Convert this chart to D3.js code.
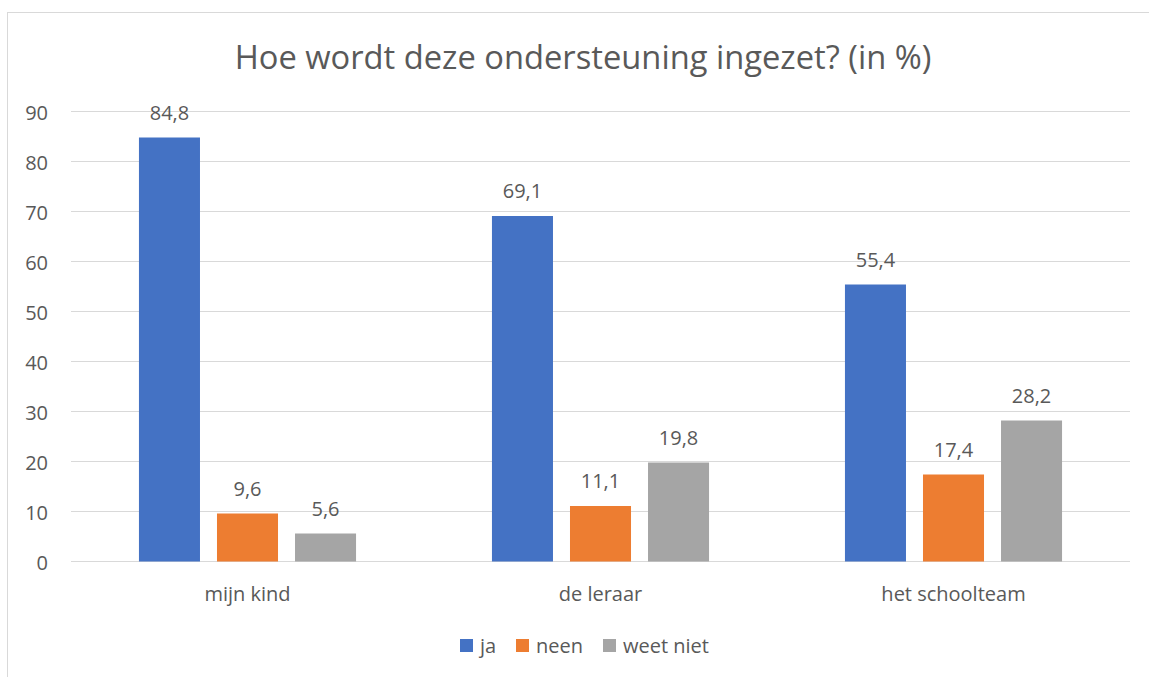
<!DOCTYPE html>
<html><head><meta charset="utf-8">
<script src="https://cdn.jsdelivr.net/npm/d3@7"></script>
<style>body{margin:0;background:#fff}svg{display:block}text{font-family:"Open Sans",sans-serif;fill:#595959}</style>
</head><body>
<svg id="c" width="1149" height="677"></svg>
<script>
const title = "Hoe wordt deze ondersteuning ingezet? (in %)";
const categories = ["mijn kind", "de leraar", "het schoolteam"];
const seriesNames = ["ja", "neen", "weet niet"];
const ja = [84.8, 69.1, 55.4];
const neen = [9.6, 11.1, 17.4];
const weetNiet = [5.6, 19.8, 28.2];
const yTicks = [0, 10, 20, 30, 40, 50, 60, 70, 80, 90];
const colors = ["#4472C4", "#ED7D31", "#A5A5A5"];
const series = [ja, neen, weetNiet];

const svg = d3.select("#c");
svg.append("rect").attr("x", 7.5).attr("y", 12.5).attr("width", 1160).attr("height", 700)
  .attr("fill", "none").attr("stroke", "#d9d9d9");

const pLeft = 71, pRight = 1130, pTop = 111.5, pBottom = 561.5;
const y = d3.scaleLinear().domain([0, 90]).range([pBottom, pTop]);
const x0 = d3.scaleBand().domain(categories).range([pLeft, pRight]).paddingInner(0.385).paddingOuter(0.1925);
const x1 = d3.scaleBand().domain(seriesNames).range([0, x0.bandwidth()]).paddingInner(0.218);

svg.append("g").selectAll("line").data(yTicks).join("line")
  .attr("x1", pLeft).attr("x2", pRight).attr("y1", d => y(d)).attr("y2", d => y(d))
  .attr("stroke", "#d9d9d9").attr("stroke-width", 1);

const yAxis = d3.axisLeft(y).tickValues(yTicks).tickSize(0).tickPadding(0);
const ga = svg.append("g").attr("transform", `translate(48,0)`).call(yAxis);
ga.select(".domain").remove();
ga.selectAll("text").attr("dy", "7.5").style("font-family", '"Open Sans",sans-serif').style("font-size", "20px").attr("fill", "#595959");

const groups = svg.append("g").selectAll("g").data(categories).join("g")
  .attr("transform", d => `translate(${x0(d)},0)`);
groups.each(function(cat, ci) {
  const g = d3.select(this);
  seriesNames.forEach((s, si) => {
    const v = series[si][ci];
    g.append("rect").attr("x", x1(s)).attr("y", y(v)).attr("width", x1.bandwidth())
      .attr("height", y(0) - y(v)).attr("fill", colors[si]);
    g.append("text").attr("x", x1(s) + x1.bandwidth() / 2).attr("y", y(v) - 18)
      .attr("text-anchor", "middle").style("font-size", "20px")
      .text(String(v.toFixed(1)).replace(".", ","));
  });
});

const xAxis = d3.axisBottom(x0).tickSize(0).tickPadding(0);
const gx = svg.append("g").attr("transform", `translate(0,${pBottom})`).call(xAxis);
gx.select(".domain").remove();
gx.selectAll("text").attr("dy", 0).attr("y", 39).style("font-family", '"Open Sans",sans-serif').style("font-size", "20px").attr("fill", "#595959");

svg.append("text").attr("x", 583).attr("y", 68.5).attr("text-anchor", "middle")
  .style("font-size", "32.7px").text(title);

const legX = [460, 516, 603];
const leg = svg.append("g");
seriesNames.forEach((s, i) => {
  leg.append("rect").attr("x", legX[i]).attr("y", 639).attr("width", 13).attr("height", 13).attr("fill", colors[i]);
  leg.append("text").attr("x", legX[i] + 20).attr("y", 653).style("font-size", "20px").text(s);
});
</script>
</body></html>
